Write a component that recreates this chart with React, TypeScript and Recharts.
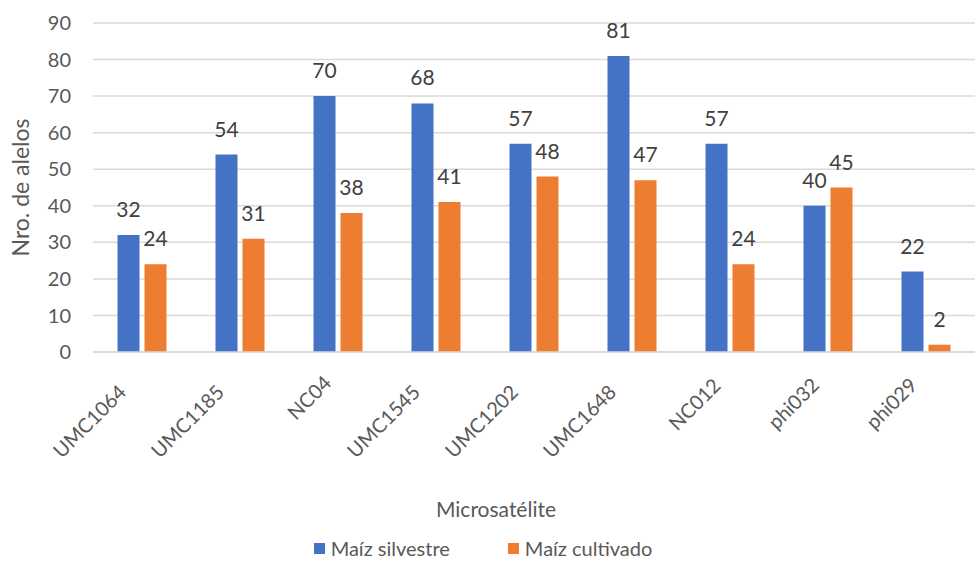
import React from 'react';
import { BarChart, Bar, XAxis, YAxis, CartesianGrid, Legend, LabelList } from 'recharts';

const categories = ['UMC1064', 'UMC1185', 'NC04', 'UMC1545', 'UMC1202', 'UMC1648', 'NC012', 'phi032', 'phi029'];
const silvestre = [32, 54, 70, 68, 57, 81, 57, 40, 22];
const cultivado = [24, 31, 38, 41, 48, 47, 24, 45, 2];
const seriesNames = ['Maíz silvestre', 'Maíz cultivado'];
const yTicks = [0, 10, 20, 30, 40, 50, 60, 70, 80, 90];

const data = categories.map((c, i) => ({ name: c, silvestre: silvestre[i], cultivado: cultivado[i] }));

const FONT = 'Lato, "Noto Sans", sans-serif';
const GREY = '#595959';
const BLUE = '#4472C4';
const ORANGE = '#ED7D31';
const TICK_SIZE = 20;

let ctx: CanvasRenderingContext2D | null = null;
const measure = (s: string) => {
  if (!ctx) {
    const c = document.createElement('canvas');
    ctx = c.getContext('2d');
  }
  if (!ctx) return s.length * TICK_SIZE * 0.55;
  ctx.font = `${TICK_SIZE}px Lato`;
  return ctx.measureText(s).width;
};

const XTick = (props: any) => {
  const { x, y, payload } = props;
  const L = measure(String(payload.value));
  const k = 0.22 * L;
  return (
    <g transform={`translate(${x + 6 - k},${y + 21 + k})`}>
      <text transform="rotate(-45)" textAnchor="end" fill={GREY} fontSize={TICK_SIZE} fontFamily={FONT}>
        {payload.value}
      </text>
    </g>
  );
};

const LegendContent = (props: any) => {
  const payload = [...(props.payload || [])].sort(
    (a: any, b: any) => seriesNames.indexOf(a.value) - seriesNames.indexOf(b.value)
  );
  return (
    <div style={{ display: 'flex', justifyContent: 'center', alignItems: 'center', gap: 58, paddingRight: 13, height: 26, fontFamily: FONT, fontSize: 20, color: GREY }}>
      {payload.map((p: any) => (
        <div key={p.value} style={{ display: 'flex', alignItems: 'center' }}>
          <span style={{ display: 'inline-block', width: 11, height: 11, background: p.color, marginRight: 6 }} />
          <span>{p.value}</span>
        </div>
      ))}
    </div>
  );
};

export default function App() {
  return (
    <div style={{ position: 'absolute', left: 0, top: 0, width: 979, height: 561, background: '#fff' }}>
      <BarChart width={979} height={561} data={data} margin={{ top: 23, right: 4, left: 0, bottom: 0 }} barCategoryGap="25%" barGap={5}>
        <CartesianGrid vertical={false} stroke="#D9D9D9" strokeWidth={1.5} />
        <XAxis
          dataKey="name"
          interval={0}
          height={183}
          tick={<XTick />}
          tickLine={false}
          tickSize={0}
          tickMargin={0}
          axisLine={{ stroke: '#D9D9D9', strokeWidth: 1.5 }}
          label={{ value: 'Microsatélite', position: 'insideBottom', offset: 18, dx: -38, fill: GREY, fontSize: 21, fontFamily: FONT }}
        />
        <YAxis
          width={93}
          domain={[0, 90]}
          ticks={yTicks}
          interval={0}
          tickLine={false}
          axisLine={false}
          tickSize={0}
          tickMargin={22}
          tick={{ fill: GREY, fontSize: 20, fontFamily: FONT }}
          label={{ value: 'Nro. de alelos', angle: -90, position: 'insideLeft', offset: 21, fill: GREY, fontSize: 23, fontFamily: FONT, style: { textAnchor: 'middle' } }}
        />
        <Legend verticalAlign="bottom" content={<LegendContent />} wrapperStyle={{ left: 0, width: 979, height: 26 }} />
        <Bar dataKey="silvestre" name={seriesNames[0]} fill={BLUE} isAnimationActive={false}>
          <LabelList dataKey="silvestre" position="top" offset={18} fill="#404040" fontSize={21} fontFamily={FONT} />
        </Bar>
        <Bar dataKey="cultivado" name={seriesNames[1]} fill={ORANGE} isAnimationActive={false}>
          <LabelList dataKey="cultivado" position="top" offset={18} fill="#404040" fontSize={21} fontFamily={FONT} />
        </Bar>
      </BarChart>
    </div>
  );
}
